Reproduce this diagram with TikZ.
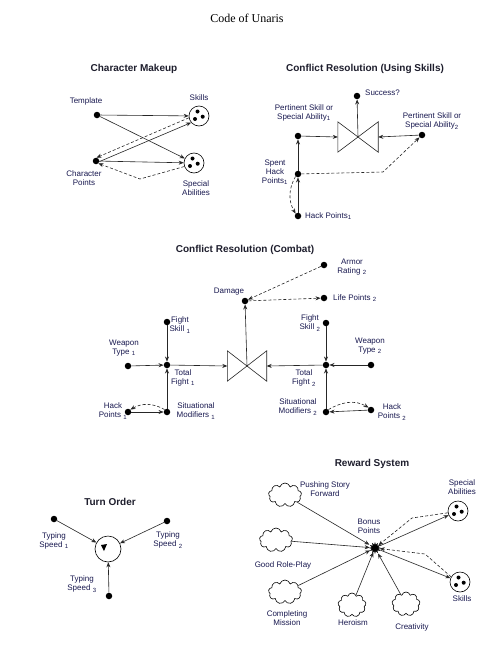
\documentclass[tikz,border=0pt]{standalone}
\usepackage{fontspec}
\setmainfont{Liberation Serif}
\newfontfamily\arialfont{Liberation Sans}
\usetikzlibrary{arrows.meta, positioning, calc, shapes.geometric, shapes.symbols}
\definecolor{labelblue}{RGB}{25,25,80}
\definecolor{headcol}{RGB}{30,30,45}
\newcommand{\lblfont}{\arialfont\fontsize{8}{9}\selectfont}
\newcommand{\headfont}{\arialfont\bfseries\fontsize{10}{12}\selectfont}
\tikzset{
  dot/.style={circle, fill=black, inner sep=0pt, minimum size=6.5pt},
  lbl/.style={font=\lblfont, text=labelblue, align=center, inner sep=0pt},
  heading/.style={font=\headfont, text=headcol},
  flow/.style={-{Stealth[length=5pt,width=4pt]}, line width=0.6pt, black!85},
  backflow/.style={flow, dash pattern=on 3pt off 2pt},
  ability/.style={circle, draw, line width=0.6pt, minimum size=20pt, inner sep=0pt,
    path picture={
      \fill ($(path picture bounding box.center)+(-1.5pt,4.5pt)$) circle (2pt);
      \fill ($(path picture bounding box.center)+(3.7pt,-0.7pt)$) circle (2pt);
      \fill ($(path picture bounding box.center)+(-4pt,-3pt)$) circle (2pt);
    }},
  rewardcloud/.style={cloud, draw, cloud puffs=9, aspect=1.4, line width=0.6pt,
    minimum width=33pt, minimum height=24pt, inner sep=0pt},
  valve/.style={minimum width=40pt, minimum height=30pt, inner sep=0pt}
}
\begin{document}
\begin{tikzpicture}[x=1pt, y=1pt]
\useasboundingbox[fill=white] (0,0) rectangle (493,-645);
\node[font=\fontsize{12}{14}\selectfont] (maintitle) at (247,-18) {Code of Unaris};

% character makeup
\node[heading] (cmtitle) at (134,-69) {Character Makeup};
\node[dot] (template) at (97,-115) {};
\node[lbl] (templatel) at (86,-101) {Template};
\node[ability] (skillsA) at (199,-116) {};
\node[lbl] (skillsAl) at (199,-98) {Skills};
\node[ability] (specialA) at (194,-163) {};
\node[lbl] (specialAl) at (196,-188) {Special\\Abilities};
\node[dot] (charpts) at (96,-161) {};
\node[lbl] (charptsl) at (84,-178) {Character\\Points};
\coordinate (cmbend) at (140,-179);
\draw[flow] (template) -- (skillsA);
\draw[flow] (template) -- (specialA);
\draw[flow] (charpts.350) -- (skillsA.220);
\draw[flow] (charpts) -- (specialA);
\draw[backflow] (skillsA.190) -- (charpts.80);
\draw[backflow] (specialA.200) -- (cmbend) -- (charpts.south east);

% conflict resolution with skills
\node[heading] (crtitle) at (365,-69) {Conflict Resolution (Using Skills)};
\node[dot] (success) at (357,-96) {};
\node[lbl, anchor=west] (successl) at (365,-93) {Success?};
\node[valve] (skillvalve) at (358,-137) {};
\draw[line width=0.6pt, black!85] (skillvalve.north west) -- (skillvalve.south east) -- (skillvalve.north east) -- (skillvalve.south west) -- cycle;
\node[dot] (pskill1) at (298,-136) {};
\node[lbl] (pskill1l) at (304,-113) {Pertinent Skill or\\Special Ability\textsubscript{1}};
\node[dot] (pskill2) at (422,-135) {};
\node[lbl] (pskill2l) at (432,-121) {Pertinent Skill or\\Special Ability\textsubscript{2}};
\node[dot] (spent) at (298,-174) {};
\node[lbl] (spentl) at (275,-172) {Spent\\Hack\\Points\textsubscript{1}};
\node[dot] (hack) at (298,-216) {};
\node[lbl, anchor=west] (hackl) at (305,-216) {Hack Points\textsubscript{1}};
\coordinate (crbend) at (383,-172);
\draw[flow] (pskill1) -- (skillvalve.west);
\draw[flow] (pskill2) -- (skillvalve.east);
\draw[flow] (skillvalve.center) -- (success);
\draw[flow] (spent) -- (pskill1);
\draw[flow] (hack) -- (spent);
\draw[backflow] (spent.south west) to[out=240,in=120] (hack.north west);
\draw[backflow] (spent) -- (crbend) -- (pskill2);

% conflict resolution in combat
\node[heading] (cbtitle) at (245,-250) {Conflict Resolution (Combat)};
\node[valve, minimum width=39pt] (fightvalve) at (247,-366) {};
\draw[line width=0.6pt, black!85] (fightvalve.north west) -- (fightvalve.south east) -- (fightvalve.north east) -- (fightvalve.south west) -- cycle;
\node[dot] (damage) at (245,-301) {};
\node[lbl] (damagel) at (229,-292) {Damage};
\node[dot] (armor) at (324,-265) {};
\node[lbl] (armorl) at (352,-267) {Armor\\Rating \textsubscript{2}};
\node[dot] (life) at (324,-298) {};
\node[lbl, anchor=west] (lifel) at (333,-298) {Life Points \textsubscript{2}};
\node[dot] (total1) at (167,-365) {};
\node[lbl] (total1l) at (183,-378) {Total\\Fight \textsubscript{1}};
\node[dot] (fskill1) at (167,-322) {};
\node[lbl] (fskill1l) at (180,-325) {Fight\\Skill \textsubscript{1}};
\node[dot] (weapon1) at (128,-366) {};
\node[lbl] (weapon1l) at (124,-348) {Weapon\\Type \textsubscript{1}};
\node[dot] (situ1) at (167,-412) {};
\node[lbl] (situ1l) at (196,-411) {Situational\\Modifiers \textsubscript{1}};
\node[dot] (hackc1) at (128,-412) {};
\node[lbl] (hackc1l) at (113,-411) {Hack\\Points \textsubscript{1}};
\node[dot] (total2) at (326,-365) {};
\node[lbl] (total2l) at (304,-378) {Total\\Fight \textsubscript{2}};
\node[dot] (fskill2) at (326,-323) {};
\node[lbl] (fskill2l) at (310,-323) {Fight\\Skill \textsubscript{2}};
\node[dot] (weapon2) at (371,-365) {};
\node[lbl] (weapon2l) at (370,-346) {Weapon\\Type \textsubscript{2}};
\node[dot] (situ2) at (326,-412) {};
\node[lbl] (situ2l) at (298,-407) {Situational\\Modifiers \textsubscript{2}};
\node[dot] (hackc2) at (371,-410) {};
\node[lbl] (hackc2l) at (392,-412) {Hack\\Points \textsubscript{2}};
\draw[flow] (fskill1) -- (total1);
\draw[flow] (weapon1) -- (total1);
\draw[flow] (situ1) -- (total1);
\draw[flow] (total1) -- (fightvalve.west);
\draw[flow] (hackc1) -- (situ1);
\draw[backflow] (situ1.north west) to[out=150,in=30] (hackc1.north east);
\draw[flow] (fskill2) -- (total2);
\draw[flow] (weapon2) -- (total2);
\draw[flow] (situ2) -- (total2);
\draw[flow] (total2) -- (fightvalve.east);
\draw[flow] (hackc2) -- (situ2);
\draw[backflow] (situ2.north east) to[out=30,in=150] (hackc2.north west);
\draw[flow] (fightvalve.center) -- (damage);
\draw[backflow] (armor) -- (damage);
\draw[backflow] (damage) -- (life);

% turn order
\node[heading] (totitle) at (110,-502) {Turn Order};
\node[circle, draw, line width=0.6pt, minimum size=26pt, inner sep=0pt] (turn) at (108,-549) {};
\fill ($(turn)+(-7,4)$) -- ($(turn)+(-1,5)$) -- ($(turn)+(-4,-2)$) -- cycle;
\node[dot] (typing1) at (54,-519) {};
\node[lbl] (typing1l) at (54,-541) {Typing\\Speed \textsubscript{1}};
\node[dot] (typing2) at (167,-521) {};
\node[lbl] (typing2l) at (168,-540) {Typing\\Speed \textsubscript{2}};
\node[dot] (typing3) at (109,-596) {};
\node[lbl] (typing3l) at (82,-584) {Typing\\Speed \textsubscript{3}};
\draw[flow] (typing1) -- (turn);
\draw[flow] (typing2) -- (turn);
\draw[flow] (typing3) -- (turn);

% reward system
\node[heading] (rstitle) at (372,-464) {Reward System};
\node[star, star points=12, star point ratio=1.8, fill=black, inner sep=0pt, minimum size=12pt] (bonus) at (375,-548) {};
\node[lbl] (bonusl) at (369,-526) {Bonus\\Points};
\node[ability] (specialR) at (458,-511) {};
\node[lbl] (specialRl) at (462,-487) {Special\\Abilities};
\node[ability] (skillsR) at (460,-582) {};
\node[lbl] (skillsRl) at (462,-599) {Skills};
\node[rewardcloud] (story) at (285,-495) {};
\node[lbl] (storyl) at (325,-489) {Pushing Story\\Forward};
\node[rewardcloud] (roleplay) at (276,-540) {};
\node[lbl] (roleplayl) at (283,-565) {Good Role-Play};
\node[rewardcloud] (mission) at (285,-592) {};
\node[lbl] (missionl) at (287,-618) {Completing\\Mission};
\node[rewardcloud, minimum width=28pt] (heroism) at (352,-605) {};
\node[lbl] (heroisml) at (353,-623) {Heroism};
\node[rewardcloud, minimum width=28pt] (creativity) at (406,-604) {};
\node[lbl] (creativityl) at (412,-627) {Creativity};
\coordinate (sabend) at (412,-518);
\coordinate (skbend) at (425,-554);
\draw[flow] (story) -- (bonus);
\draw[flow] (roleplay) -- (bonus);
\draw[flow] (mission) -- (bonus);
\draw[flow] (heroism) -- (bonus);
\draw[flow] (creativity) -- (bonus);
\draw[flow] (bonus) -- (specialR);
\draw[flow] (bonus) -- (skillsR);
\draw[backflow] (specialR.190) -- (sabend) -- (bonus);
\draw[backflow] (skillsR.150) -- (skbend) -- (bonus);
\end{tikzpicture}
\end{document}
